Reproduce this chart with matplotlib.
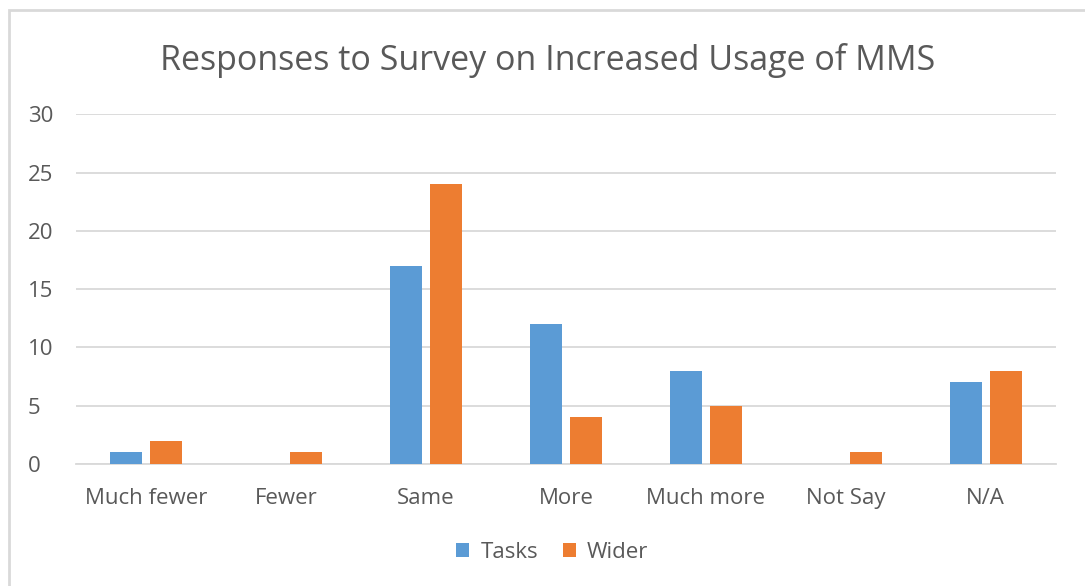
import numpy as np
import matplotlib.pyplot as plt
from matplotlib.patches import Rectangle

categories = ['Much fewer', 'Fewer', 'Same', 'More', 'Much more', 'Not Say', 'N/A']
tasks = [1, 0, 17, 12, 8, 0, 7]
wider = [2, 1, 24, 4, 5, 1, 8]

plt.rcParams['font.family'] = ['Open Sans', 'DejaVu Sans']
grey = '#595959'

fig = plt.figure(figsize=(10.85, 5.86), dpi=100)
ax = fig.add_axes([0.070, 0.208, 0.903, 0.597])

# chart frame, open on the right and bottom
fig.patches.append(Rectangle((9/1085, -0.05), 1.2, 0.05 + (586-10)/586,
                             transform=fig.transFigure, fill=False,
                             edgecolor='#D9D9D9', linewidth=2))

x = np.arange(len(categories))
w = 0.229
ax.bar(x - 0.143, tasks, w, color='#5B9BD5', label='Tasks', zorder=3)
ax.bar(x + 0.143, wider, w, color='#ED7D31', label='Wider', zorder=3)

ax.set_xlim(-0.5, len(categories) - 0.5)
ax.set_ylim(0, 30)
ax.set_yticks(range(0, 31, 5))
ax.set_xticks(x)
ax.set_xticklabels(categories)
ax.yaxis.grid(True, color='#D9D9D9', linewidth=1.3, zorder=0)
for s in ['top', 'right', 'left']:
    ax.spines[s].set_visible(False)
ax.spines['bottom'].set_color('#D9D9D9')
ax.spines['bottom'].set_linewidth(1.3)
ax.tick_params(length=0, labelsize=16, colors=grey)
ax.tick_params(axis='x', pad=17)
ax.tick_params(axis='y', pad=34.5)
for t in ax.get_yticklabels():
    t.set_horizontalalignment('left')

fig.text(0.505, 0.897, 'Responses to Survey on Increased Usage of MMS',
         ha='center', va='center', fontsize=24.5, color=grey)

fig.legend(loc='center', bbox_to_anchor=(0.509, 0.058), ncol=2, frameon=False,
           fontsize=16, labelcolor=grey, handlelength=0.6, handleheight=0.6,
           handletextpad=0.5, columnspacing=1.1)

fig.savefig('out.png', dpi=100)
